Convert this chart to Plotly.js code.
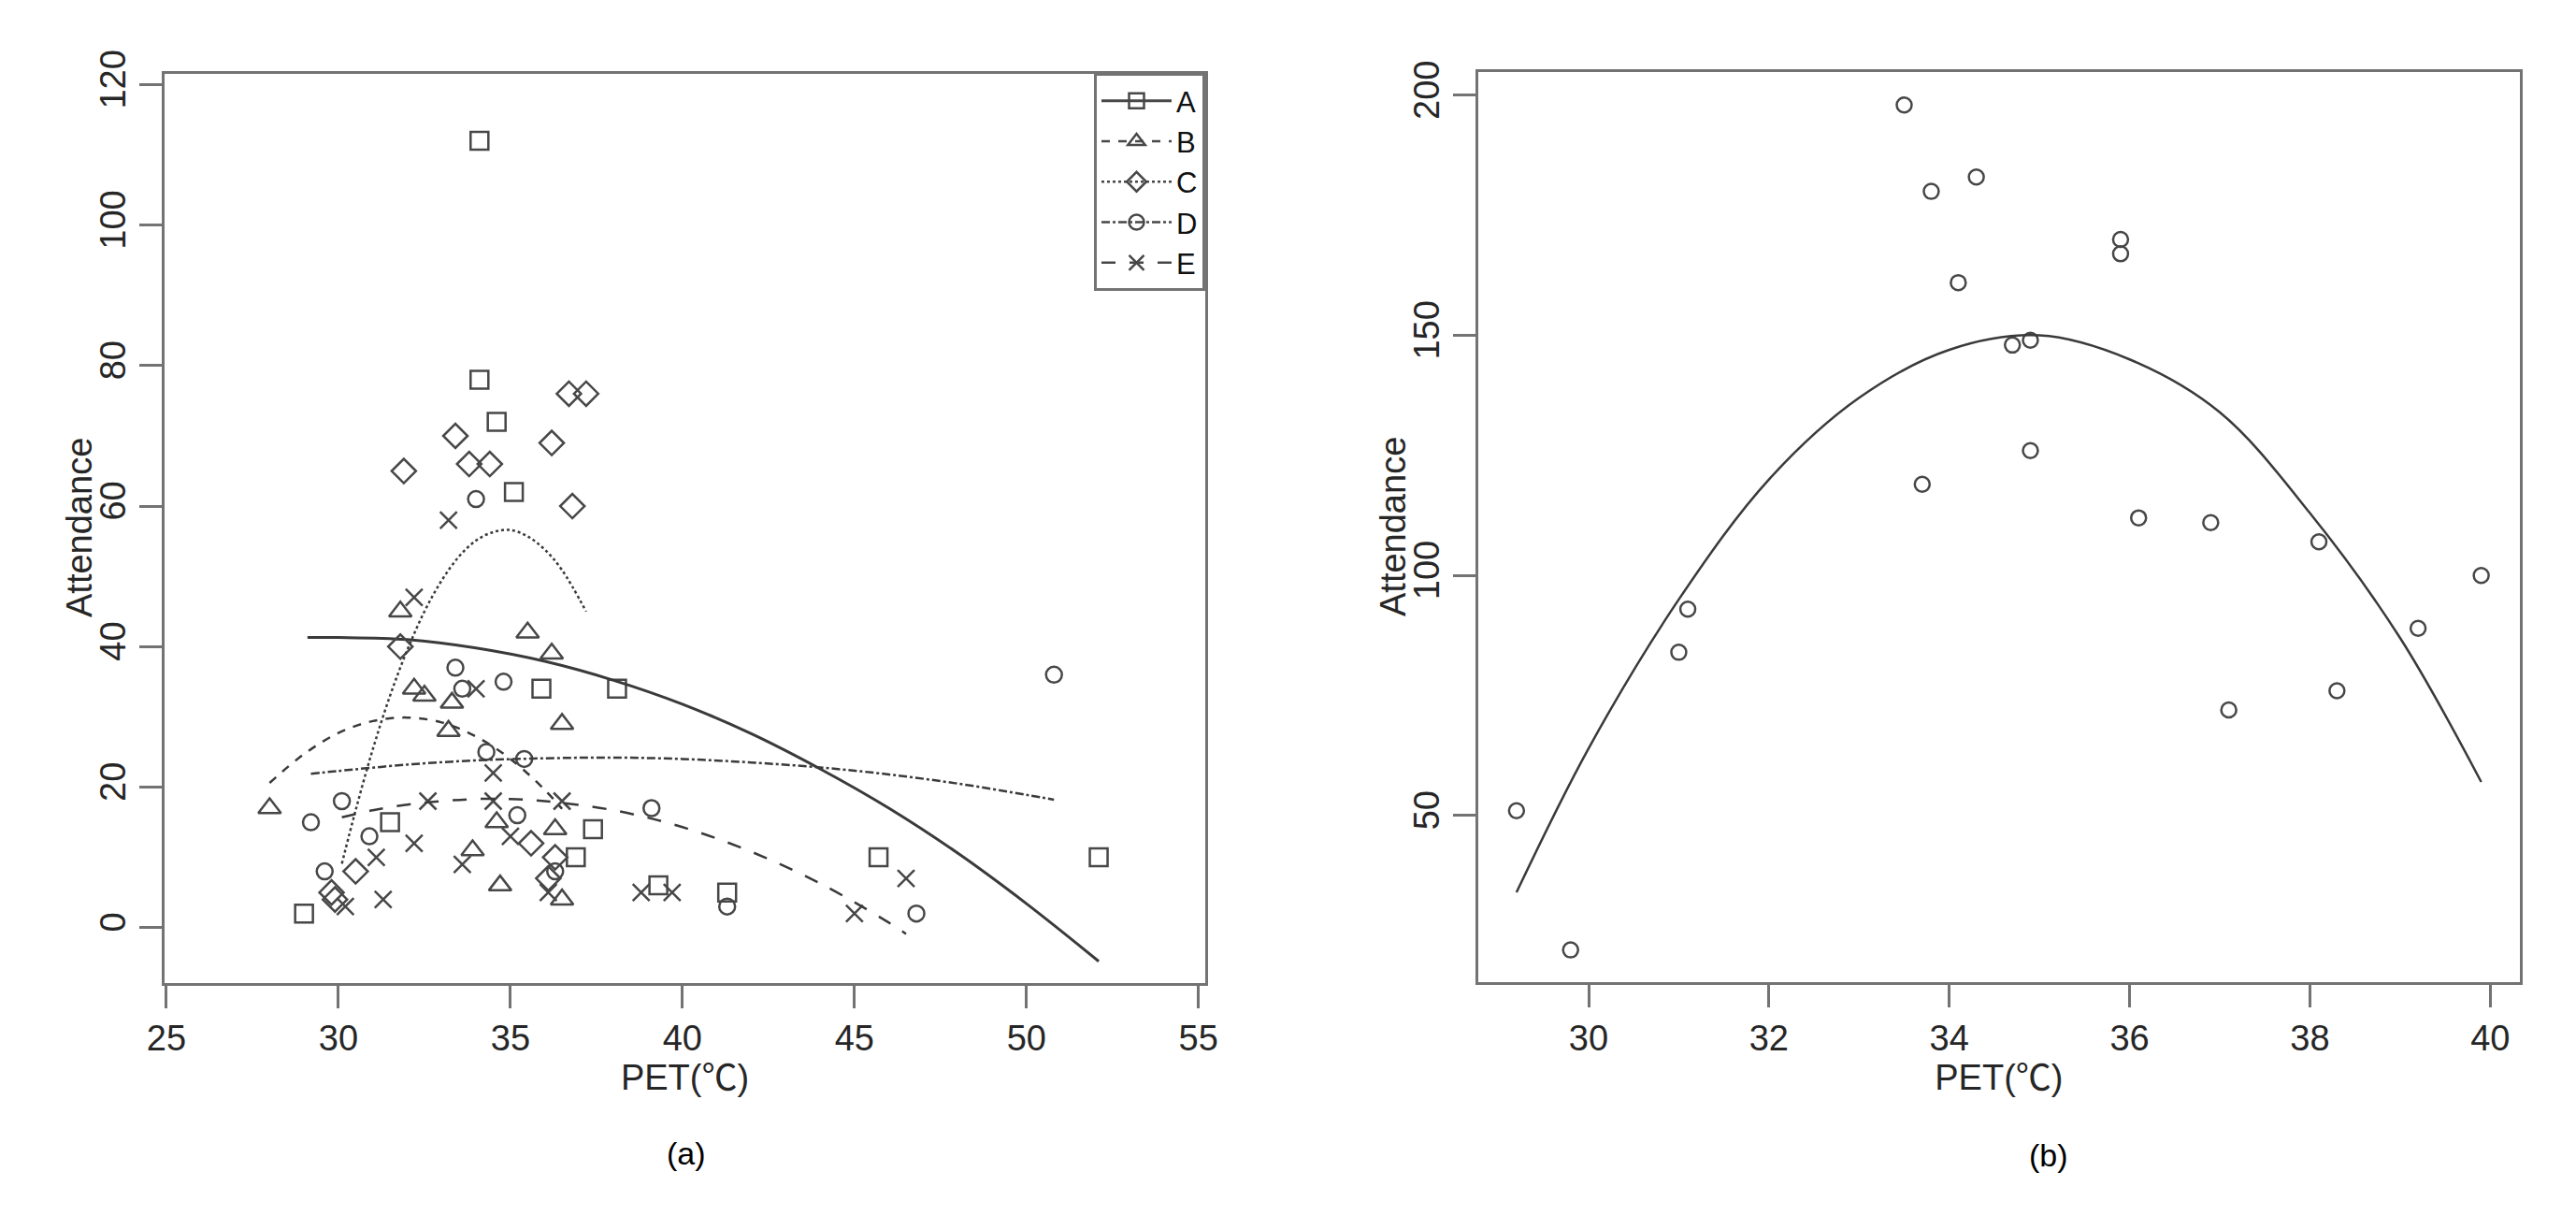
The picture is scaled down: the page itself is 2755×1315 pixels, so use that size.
<!DOCTYPE html>
<html>
<head>
<meta charset="utf-8">
<script src="https://cdn.plot.ly/plotly-3.0.1.min.js"></script>
<style>
  html, body { margin: 0; padding: 0; background: #fff; }
  #chart { width: 2755px; height: 1315px; }
</style>
</head>
<body>
<div id="chart"></div>
<script>
// ---- panel (a): attendance by site group ----
const groupNames = ["A", "B", "C", "D", "E"];

const petA = [29.0, 31.5, 34.1, 34.1, 34.6, 35.1, 35.9, 38.1, 37.4, 36.9, 39.3, 41.3, 45.7, 52.1];
const attA = [2, 15, 112, 78, 72, 62, 34, 34, 14, 10, 6, 5, 10, 10];

const petB = [28.0, 31.8, 32.2, 32.5, 33.3, 33.2, 35.5, 36.2, 36.5, 34.6, 36.3, 33.9, 34.7, 36.5];
const attB = [17, 45, 34, 33, 32, 28, 42, 39, 29, 15, 14, 11, 6, 4];

const petC = [31.9, 33.4, 33.8, 34.4, 36.2, 36.7, 37.2, 36.8, 31.8, 35.6, 30.5, 36.3, 36.1, 29.8, 29.9];
const attC = [65, 70, 66, 66, 69, 76, 76, 60, 40, 12, 8, 10, 7, 5, 4];

const petD = [34.0, 33.4, 33.6, 34.8, 34.3, 35.4, 30.1, 29.2, 35.2, 30.9, 29.6, 36.3, 50.8, 39.1, 41.3, 46.8];
const attD = [61, 37, 34, 35, 25, 24, 18, 15, 16, 13, 8, 8, 36, 17, 3, 2];

const petE = [33.2, 32.2, 34.0, 34.5, 32.6, 34.5, 36.5, 32.2, 35.0, 31.1, 33.6, 36.1, 31.3, 30.2, 38.8, 39.7, 46.5, 45.0];
const attE = [58, 47, 34, 22, 18, 18, 18, 12, 13, 10, 9, 5, 4, 3, 5, 5, 7, 2];

// fitted curves
const fitAx = [29.1, 30, 32, 34, 36, 38, 40, 42, 44, 46, 48, 50, 52.1];
const fitAy = [41.3, 41.3, 41.0, 39.8, 37.9, 35.2, 31.8, 27.6, 22.6, 17.0, 10.6, 3.4, -4.8];

const fitBx = [28, 29, 30, 31, 32, 33, 34, 35, 36, 36.5];
const fitBy = [20.6, 24.7, 27.7, 29.4, 29.9, 29.2, 27.2, 24.0, 19.6, 16.9];

const fitCx = [30.1, 30.5, 31, 31.5, 32, 32.5, 33, 33.5, 34, 34.5, 35, 35.5, 36, 36.5, 37.2];
const fitCy = [9.1, 16.7, 25.4, 33.0, 39.5, 45.0, 49.4, 52.8, 55.1, 56.3, 56.6, 55.7, 53.8, 50.9, 45.0];

const fitDx = [29.2, 30, 32, 34, 36, 38, 40, 42, 44, 46, 48, 50, 50.8];
const fitDy = [21.9, 22.3, 23.2, 23.8, 24.1, 24.2, 24.0, 23.5, 22.8, 21.8, 20.5, 18.9, 18.2];

const fitEx = [30.1, 31, 32, 33, 34, 35, 36, 38, 40, 42, 44, 46, 46.5];
const fitEy = [15.7, 16.7, 17.5, 18.0, 18.3, 18.3, 18.0, 16.7, 14.3, 10.8, 6.3, 0.7, -0.9];

// ---- panel (b): total attendance ----
const petTotal = [29.2, 29.8, 31.0, 31.1, 33.5, 33.7, 33.8, 34.1, 34.3, 34.7, 34.9, 34.9, 35.9, 35.9, 36.1, 36.9, 37.1, 38.1, 38.3, 39.2, 39.9];
const attTotal = [51, 22, 84, 93, 198, 119, 180, 161, 183, 148, 149, 126, 170, 167, 112, 111, 72, 107, 76, 89, 100];

const fitTx = [29.2, 30, 31, 32, 33, 34, 35, 36, 37, 38, 39, 39.9];
const fitTy = [34, 64, 95, 120, 137, 147, 150, 145, 134, 113, 87, 57];

const ink = "#474747";
const axisGray = "#737373";
const font = "Liberation Sans, Arial, Noto Sans CJK SC, sans-serif";

const groups = [
  { x: petA, y: attA, fx: fitAx, fy: fitAy, symbol: "square-open", size: 19, dash: "solid", w: 3 },
  { x: petB, y: attB, fx: fitBx, fy: fitBy, symbol: "triangle-up-open", size: 21, dash: "dash", w: 2.5 },
  { x: petC, y: attC, fx: fitCx, fy: fitCy, symbol: "diamond-open", size: 20, dash: "dot", w: 2.5 },
  { x: petD, y: attD, fx: fitDx, fy: fitDy, symbol: "circle-open", size: 17, dash: "dashdot", w: 2.5 },
  { x: petE, y: attE, fx: fitEx, fy: fitEy, symbol: "x-thin-open", size: 18, dash: "longdash", w: 2.5 }
];

// put a gap after every point so the legend shows line + symbol
// while the scatter itself stays unconnected
const gapped = (arr) => arr.flatMap((v) => [v, null]);

const traces = [];
groups.forEach((g, i) => {
  traces.push({
    type: "scatter",
    mode: "lines+markers",
    name: groupNames[i],
    legendgroup: groupNames[i],
    x: gapped(g.x),
    y: gapped(g.y),
    connectgaps: false,
    xaxis: "x",
    yaxis: "y",
    line: { color: ink, width: g.w, dash: g.dash },
    marker: { symbol: g.symbol, size: g.size, color: ink, line: { color: ink, width: 2.5 } },
    hoverinfo: "x+y+name"
  });
  traces.push({
    type: "scatter",
    mode: "lines",
    name: groupNames[i] + " fit",
    legendgroup: groupNames[i],
    showlegend: false,
    x: g.fx,
    y: g.fy,
    xaxis: "x",
    yaxis: "y",
    line: { color: "#3a3a3a", width: g.w, dash: g.dash, shape: "spline" }
  });
});

traces.push({
  type: "scatter",
  mode: "markers",
  name: "Total",
  showlegend: false,
  x: petTotal,
  y: attTotal,
  xaxis: "x2",
  yaxis: "y2",
  marker: { symbol: "circle-open", size: 16, color: ink, line: { color: ink, width: 2.5 } }
});
traces.push({
  type: "scatter",
  mode: "lines",
  name: "Total fit",
  showlegend: false,
  x: fitTx,
  y: fitTy,
  xaxis: "x2",
  yaxis: "y2",
  line: { color: "#3a3a3a", width: 2.5, shape: "spline" }
});

const W = 2755, H = 1315;

function axisBase(extra) {
  return Object.assign({
    showline: true,
    mirror: true,
    linecolor: axisGray,
    linewidth: 3,
    ticks: "outside",
    ticklen: 24,
    tickwidth: 3,
    tickcolor: axisGray,
    showgrid: false,
    zeroline: false,
    tickfont: { family: font, size: 38, color: "#262626" },
    automargin: false
  }, extra);
}

const titleFont = { family: font, size: 38, color: "#262626" };

const layout = {
  width: W,
  height: H,
  margin: { l: 0, r: 0, t: 0, b: 0 },
  paper_bgcolor: "#fff",
  plot_bgcolor: "#fff",
  font: { family: font, color: "#262626" },
  showlegend: true,
  legend: {
    x: 1289 / W,
    xanchor: "right",
    y: 1 - 78 / H,
    yanchor: "top",
    bordercolor: axisGray,
    borderwidth: 3,
    bgcolor: "#fff",
    font: { family: font, size: 31, color: "#111" },
    itemwidth: 75,
    tracegroupgap: 0
  },
  xaxis: axisBase({
    domain: [176 / W, 1289 / W],
    range: [24.946, 55.197],
    tickvals: [25, 30, 35, 40, 45, 50, 55],
    anchor: "y",
    title: { text: "PET(℃)", font: titleFont, standoff: 4 }
  }),
  yaxis: axisBase({
    domain: [1 - 1050.7 / H, 1 - 78.5 / H],
    range: [-7.86, 121.6],
    tickvals: [0, 20, 40, 60, 80, 100, 120],
    tickangle: -90,
    anchor: "x"
  }),
  xaxis2: axisBase({
    domain: [1580.7 / W, 2695 / W],
    range: [28.773, 40.329],
    tickvals: [30, 32, 34, 36, 38, 40],
    anchor: "y2",
    title: { text: "PET(℃)", font: titleFont, standoff: 4 }
  }),
  yaxis2: axisBase({
    domain: [1 - 1050 / H, 1 - 76.8 / H],
    range: [15.3, 204.9],
    tickvals: [50, 100, 150, 200],
    tickangle: -90,
    anchor: "x2"
  }),
  annotations: [
    { text: "Attendance", xref: "paper", yref: "paper", x: 85 / W, y: 1 - 564 / H,
      textangle: -90, xanchor: "center", yanchor: "middle", showarrow: false, font: titleFont },
    { text: "Attendance", xref: "paper", yref: "paper", x: 1490 / W, y: 1 - 563 / H,
      textangle: -90, xanchor: "center", yanchor: "middle", showarrow: false, font: titleFont },
    { text: "(a)", xref: "paper", yref: "paper", x: 734 / W, y: 1 - 1233 / H,
      xanchor: "center", yanchor: "middle", showarrow: false,
      font: { family: font, size: 34, color: "#000" } },
    { text: "(b)", xref: "paper", yref: "paper", x: 2191 / W, y: 1 - 1235 / H,
      xanchor: "center", yanchor: "middle", showarrow: false,
      font: { family: font, size: 34, color: "#000" } }
  ]
};

Plotly.newPlot("chart", traces, layout, { staticPlot: true, displayModeBar: false });
</script>
</body>
</html>
